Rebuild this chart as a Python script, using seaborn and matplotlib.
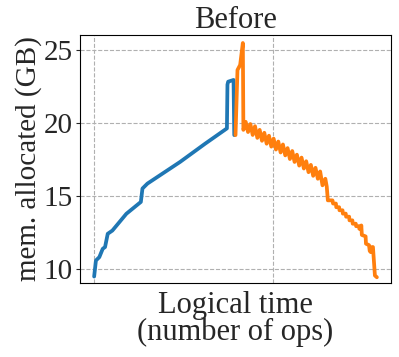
import matplotlib
matplotlib.use("Agg")
import matplotlib.pyplot as plt
import seaborn as sns
import pandas as pd

# forward pass (memory grows)
fwd_ops = [0, 10, 29, 48, 61, 76, 102, 180, 250, 261, 270, 298, 480, 620,
           742, 745, 749, 779, 783]
fwd_mem = [9.45, 10.55, 10.78, 11.35, 11.47, 12.38, 12.6, 13.75, 14.45, 14.56,
           15.48, 15.82, 17.3, 18.55, 19.6, 22.6, 22.8, 22.92, 19.14]

# backward pass (memory released)
bwd_ops = [790, 801, 816, 831, 834, 847, 860, 873, 886, 899, 912, 925, 938,
           951, 964, 977, 990, 1003, 1016, 1029, 1042, 1055, 1068, 1081, 1094,
           1107, 1120, 1133, 1146, 1159, 1172, 1185, 1198, 1211, 1224, 1237,
           1250, 1263, 1276, 1292, 1300, 1306, 1332, 1335, 1351, 1353, 1369,
           1371, 1388, 1390, 1406, 1408, 1425, 1427, 1443, 1445, 1462, 1464,
           1480, 1482, 1490, 1493, 1496, 1517, 1519, 1536, 1540, 1546, 1552,
           1558, 1569, 1580]
bwd_mem = [19.14, 23.6, 23.95, 25.45, 19.5, 20.05, 19.35, 19.9, 19.15, 19.75,
           18.95, 19.5, 18.75, 19.3, 18.55, 19.1, 18.35, 18.9, 18.15, 18.7,
           17.95, 18.5, 17.75, 18.25, 17.5, 18.05, 17.3, 17.8, 17.05, 17.6,
           16.85, 17.35, 16.6, 17.1, 16.35, 16.9, 16.15, 16.65, 15.7, 16.15,
           15.6, 14.67, 14.67, 14.45, 14.45, 14.2, 14.2, 13.99, 13.99, 13.76,
           13.76, 13.55, 13.55, 13.3, 13.3, 13.07, 13.07, 12.9, 12.9, 12.72,
           12.72, 12.95, 12.3, 12.2, 11.7, 11.6, 11.2, 11.12, 11.47, 11.47,
           9.52, 9.4]

y_ticks = [10, 15, 20, 25]
x_ticks = [0, 1000]

sns.set_style("ticks")
plt.rcParams['font.family'] = ['Liberation Serif', 'DejaVu Serif']

fig, ax = plt.subplots(figsize=(3.99, 3.57), dpi=100)
fig.subplots_adjust(left=0.2005, right=0.98, top=0.902, bottom=0.207)

fwd = pd.DataFrame({"ops": fwd_ops, "mem": fwd_mem})
bwd = pd.DataFrame({"ops": bwd_ops, "mem": bwd_mem})
sns.lineplot(data=fwd, x="ops", y="mem", sort=False, estimator=None,
             color="#1f77b4", linewidth=2.7, ax=ax)
sns.lineplot(data=bwd, x="ops", y="mem", sort=False, estimator=None,
             color="#ff7f0e", linewidth=2.7, ax=ax)

ax.set_ylim(9, 26)
ax.set_yticks(y_ticks)
ax.set_xticks(x_ticks)
ax.set_xticklabels([])
ax.tick_params(axis="x", length=0)
ax.tick_params(axis="y", labelsize=21, length=3, pad=2)
ax.grid(True, linestyle="--", color="#b0b0b0", linewidth=0.8)
for s in ax.spines.values():
    s.set_visible(True)
    s.set_color("black")
    s.set_linewidth(0.8)

ax.set_title("Before", fontsize=22, pad=2)
ax.set_ylabel("mem. allocated (GB)", fontsize=21, labelpad=1)
ax.set_xlabel("Logical time\n(number of ops)", fontsize=22, labelpad=2,
              linespacing=0.9)

fig.savefig("out.png", dpi=100)
